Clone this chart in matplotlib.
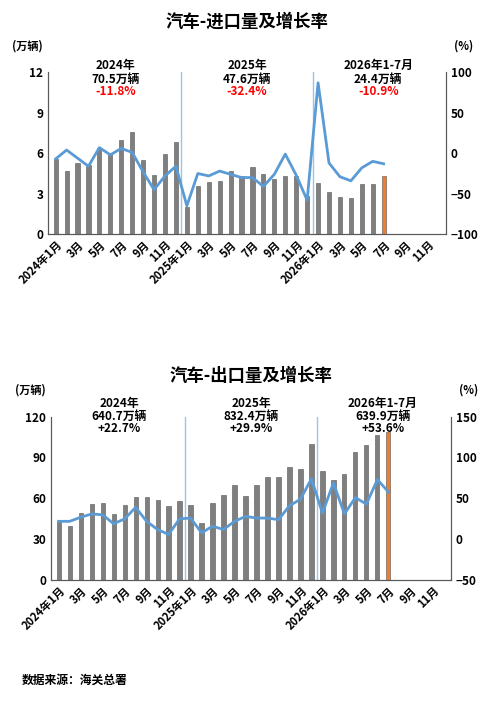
import matplotlib

matplotlib.use("Agg")
import matplotlib.pyplot as plt

plt.rcParams["font.family"] = ["Noto Sans CJK SC", "DejaVu Sans"]

months = [f"{y}年1月" if m == 1 else f"{m}月" for y in (2024, 2025, 2026) for m in range(1, 13)]

import_vol = [5.56, 4.7, 5.3, 5.1, 6.4, 6.0, 7.0, 7.6, 5.5, 4.4, 5.95, 6.8,
              2.0, 3.6, 3.85, 3.95, 4.65, 4.3, 4.95, 4.45, 4.1, 4.3, 4.3, 2.8,
              3.8, 3.1, 2.75, 2.65, 3.75, 3.75, 4.3]
import_yoy = [-7, 4, -6, -16, 7, -2, 6, 1, -23, -45, -28, -16,
              -65, -25, -28, -22, -26, -30, -30, -41, -26, -1, -27, -58,
              87, -12, -29, -34, -18, -10, -13]
export_vol = [43.7, 39.8, 49.3, 55.6, 56.6, 48.8, 55.4, 61, 61, 58.8, 54.6, 57.8,
              54.9, 42, 56.6, 62.2, 69.5, 62, 69.5, 76, 75.6, 83, 81.7, 99.5,
              79.8, 73.7, 78, 93.7, 99, 106.8, 108.5]
export_yoy = [22, 22, 27, 31, 30, 19, 25, 39, 22, 12, 6, 25,
              26, 8, 16, 12, 22, 28, 26, 26, 24, 41, 49, 74,
              32, 69, 31, 51, 43, 73, 58]

import_notes = [("2024年\n70.5万辆", "-11.8%"), ("2025年\n47.6万辆", "-32.4%"), ("2026年1-7月\n24.4万辆", "-10.9%")]
export_notes = [("2024年\n640.7万辆", "+22.7%"), ("2025年\n832.4万辆", "+29.9%"), ("2026年1-7月\n639.9万辆", "+53.6%")]

BAR = "#7f7f7f"
ORANGE = "#ed7d31"
LINE = "#5b9bd5"


def draw(rect, title, title_y, vols, yoy, ylim, yticks, rlim, rticks, notes, note_color, note_y):
    fig = plt.gcf()
    ax = fig.add_axes(rect)
    xs = list(range(len(vols)))
    colors = [BAR] * (len(vols) - 1) + [ORANGE]
    ax.bar(xs, vols, width=0.38, color=colors, edgecolor="#555555", linewidth=0.4, zorder=2)
    ax.set_xlim(-0.7, 35.7)
    ax.set_ylim(*ylim)
    ax.set_yticks(yticks)
    ax.set_xticks(range(0, 36, 2))
    ax.set_xticklabels(months[0:36:2], rotation=45, ha="right", rotation_mode="anchor")
    for x in (11.5, 23.5):
        ax.axvline(x, color="#9dc3e6", linewidth=1, zorder=1)
    ax2 = ax.twinx()
    ax2.plot(xs, yoy, color=LINE, linewidth=2, zorder=3)
    ax2.set_ylim(*rlim)
    ax2.set_yticks(rticks)
    for a in (ax, ax2):
        for s in a.spines.values():
            s.set_color("#595959")
        a.spines["top"].set_visible(False)
        a.tick_params(length=0, labelsize=8.5)
        for lbl in a.get_xticklabels() + a.get_yticklabels():
            lbl.set_fontweight("bold")
    ax.tick_params(axis="x", labelsize=8, pad=3)
    ax.text(-0.09, 1.14, "(万辆)", transform=ax.transAxes, fontsize=8, fontweight="bold")
    ax.text(1.02, 1.14, "(%)", transform=ax.transAxes, fontsize=8, fontweight="bold")
    ax.text(0.5, title_y, title, transform=ax.transAxes, ha="center", va="center",
            fontsize=12.5, fontweight="bold")
    for cx, (head, pct) in zip((5.5, 17.5, 29.5), notes):
        ax.text(cx, note_y[0], head, ha="center", va="top", fontsize=8.5, fontweight="bold",
                transform=ax.get_xaxis_transform(), linespacing=1.05)
        ax.text(cx, note_y[1], pct, ha="center", va="top", fontsize=8.5, fontweight="bold",
                color=note_color, transform=ax.get_xaxis_transform())
    return ax


fig = plt.figure(figsize=(5, 7.12), dpi=100)
draw([0.096, 0.671, 0.796, 0.2275], "汽车-进口量及增长率", 1.31, import_vol, import_yoy,
     (0, 12), [0, 3, 6, 9, 12], (-100, 100), [-100, -50, 0, 50, 100],
     import_notes, "#ff0000", (1.08, 0.92))
draw([0.102, 0.185, 0.8, 0.23], "汽车-出口量及增长率", 1.25, export_vol, export_yoy,
     (0, 120), [0, 30, 60, 90, 120], (-50, 150), [-50, 0, 50, 100, 150],
     export_notes, "#000000", (1.12, 0.965))
fig.text(0.044, 0.04, "数据来源：海关总署", fontsize=8.5, fontweight="bold")
fig.savefig("out.png", dpi=100)
